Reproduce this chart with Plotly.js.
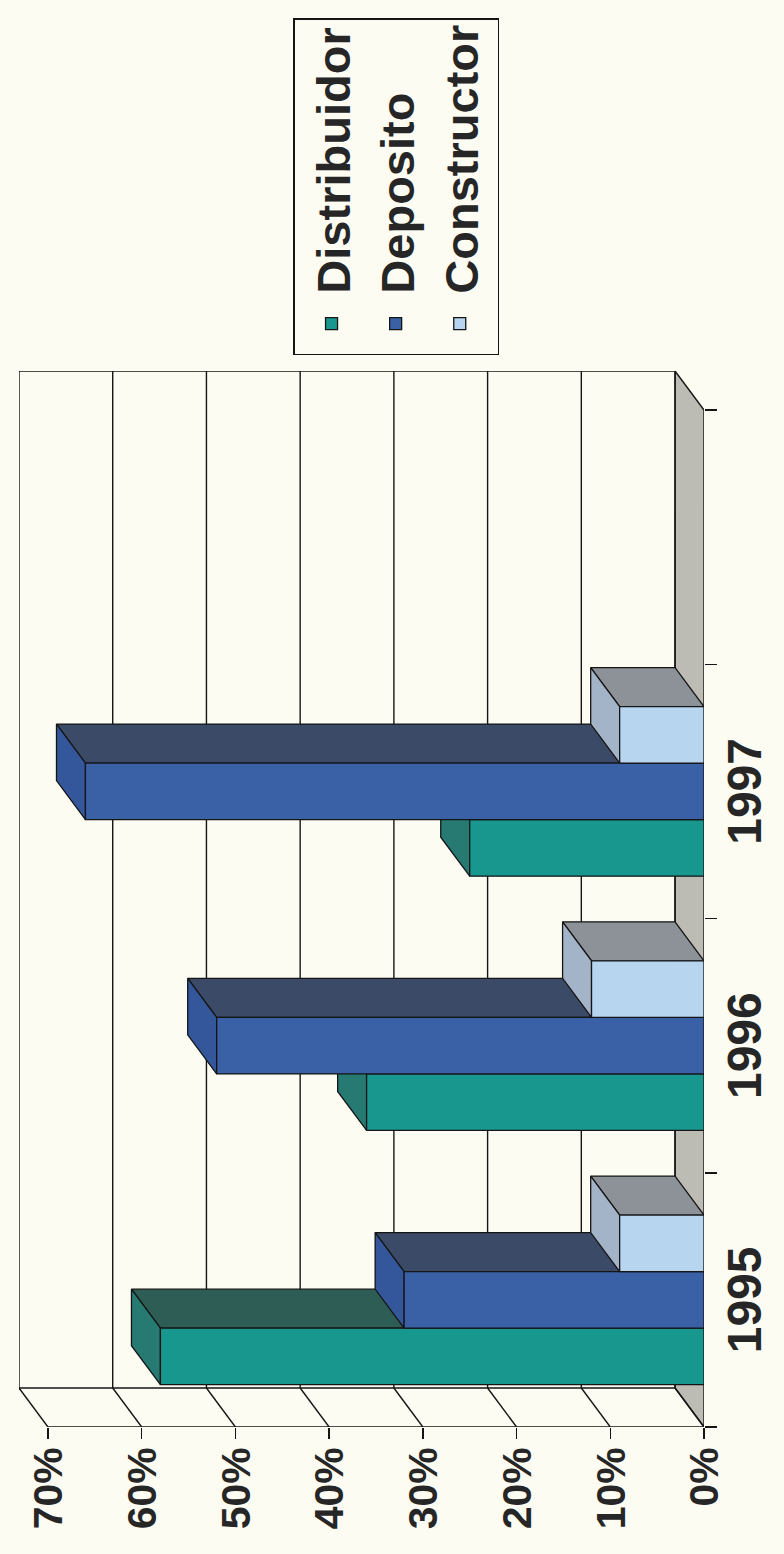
<!DOCTYPE html>
<html>
<head>
<meta charset="utf-8">
<script src="https://cdn.plot.ly/plotly-3.0.1.min.js"></script>
<style>
html,body{margin:0;padding:0;width:784px;height:1554px;overflow:hidden;background:#fcfcf3;}
#wrap{position:absolute;left:0;top:0;width:1554px;height:784px;transform-origin:0 0;transform:translateY(1554px) rotate(-90deg);}
</style>
</head>
<body>
<div id="wrap"></div>
<script>
// ---- data ----
const categories = ['1995', '1996', '1997', ''];
const distribuidor = [58, 36, 25, null];
const deposito = [32, 52, 66, null];
const constructorVals = [9, 12, 9, null];
const seriesNames = ['Distribuidor', 'Deposito', 'Constructor'];
const valueTicks = [0, 10, 20, 30, 40, 50, 60, 70];

// ---- style ----
const frontColors = ['#18978f', '#3a61a6', '#b8d5f0'];
const topColors   = ['#277a72', '#34579c', '#a4b4c8'];
const sideColors  = ['#2d5d55', '#3b4a66', '#8c9297'];
const EDGE = '#151515';
const DEPTH_X = 0.1534;   // depth offset in category units
const DEPTH_Y = 3.09;     // depth offset in percent units
const GROUP = 0.667;      // fraction of a category used by a bar group

const series = [distribuidor, deposito, constructorVals];
const nCat = categories.length;
const W = GROUP / series.length;
const yMax = valueTicks[valueTicks.length - 1];
const xRange = [-0.5, nCat - 0.5 + DEPTH_X];
const yRange = [0, yMax + DEPTH_Y];

const traces = [];
// 3D side & top faces (drawn beneath the front faces)
series.forEach((vals, s) => {
  const side = {x: [], y: []}, top = {x: [], y: []};
  vals.forEach((v, i) => {
    if (v == null) return;
    const x0 = i - GROUP / 2 + s * W, x1 = x0 + W;
    side.x.push(x1, x1, x1 + DEPTH_X, x1 + DEPTH_X, x1, null);
    side.y.push(0, v, v + DEPTH_Y, DEPTH_Y, 0, null);
    top.x.push(x0, x1, x1 + DEPTH_X, x0 + DEPTH_X, x0, null);
    top.y.push(v, v, v + DEPTH_Y, v + DEPTH_Y, v, null);
  });
  [[side, sideColors[s]], [top, topColors[s]]].forEach(([p, c]) => {
    traces.push({type: 'scatter', mode: 'lines', x: p.x, y: p.y, fill: 'toself',
      fillcolor: c, line: {color: EDGE, width: 1.3}, showlegend: false, hoverinfo: 'skip'});
  });
});
// front faces as real bars on an overlaid subplot (drawn on top)
series.forEach((vals, s) => {
  traces.push({type: 'bar', name: seriesNames[s], x: categories.map((c, i) => i), y: vals,
    width: W, offset: -GROUP / 2 + s * W, xaxis: 'x2', yaxis: 'y2',
    marker: {color: frontColors[s], line: {color: EDGE, width: 1.3}}});
});

// walls / floor / grid from the tick values
const shapes = [];
const L = -0.5, R = nCat - 0.5;
shapes.push({type: 'path', xref: 'x', yref: 'y', layer: 'below',
  path: `M${L},0 L${R},0 L${R + DEPTH_X},${DEPTH_Y} L${L + DEPTH_X},${DEPTH_Y} Z`,
  fillcolor: '#bcbcb4', line: {color: EDGE, width: 1.4}});
valueTicks.forEach(t => {
  shapes.push({type: 'line', xref: 'x', yref: 'y', layer: 'below',
    x0: L + DEPTH_X, x1: R + DEPTH_X, y0: t + DEPTH_Y, y1: t + DEPTH_Y, line: {color: EDGE, width: 1.4}});
  shapes.push({type: 'line', xref: 'x', yref: 'y', layer: 'below',
    x0: L, x1: L + DEPTH_X, y0: t, y1: t + DEPTH_Y, line: {color: EDGE, width: 1.4}});
});
[L + DEPTH_X, R + DEPTH_X].forEach(xv => shapes.push({type: 'line', xref: 'x', yref: 'y', layer: 'below',
  x0: xv, x1: xv, y0: DEPTH_Y, y1: yMax + DEPTH_Y, line: {color: EDGE, width: 1.4}}));
shapes.push({type: 'line', xref: 'x', yref: 'y', layer: 'below',
  x0: L, x1: L, y0: 0, y1: yMax, line: {color: EDGE, width: 1.4}});

const boundaries = categories.map((c, i) => i - 0.5).concat([nCat - 0.5]);

const layout = {
  width: 1554, height: 784,
  margin: {l: 127, r: 371, t: 19, b: 80},
  paper_bgcolor: '#fcfcf3', plot_bgcolor: '#fcfcf3',
  font: {family: '"Liberation Sans", Arial, sans-serif', color: '#262626'},
  showlegend: true,
  barmode: 'overlay',
  legend: {x: 1.015, xanchor: 'left', y: 0.6, yanchor: 'top', bgcolor: 'rgba(0,0,0,0)',
    bordercolor: EDGE, borderwidth: 1.5, itemwidth: 50, font: {size: 47, weight: 'bold'}},
  xaxis: {range: xRange, tickmode: 'array', tickvals: categories.map((c, i) => i), ticktext: categories,
    ticks: '', showgrid: false, zeroline: false, showline: false, fixedrange: true,
    ticklabelstandoff: 8,
    tickfont: {size: 48, weight: 'bold'},
    minor: {tickmode: 'array', tickvals: boundaries, ticks: 'outside', ticklen: 12, tickwidth: 1.5, tickcolor: EDGE, showgrid: false}},
  yaxis: {range: yRange, tickmode: 'array', tickvals: valueTicks, ticktext: valueTicks.map(t => t + '%'),
    ticks: 'outside', ticklen: 11, tickwidth: 1.5, tickcolor: EDGE, showgrid: false, zeroline: false, showline: false,
    tickfont: {size: 41, weight: 'bold'}},
  xaxis2: {overlaying: 'x', range: xRange, visible: false},
  yaxis2: {overlaying: 'y', range: yRange, visible: false},
  shapes: shapes
};

Plotly.newPlot('wrap', traces, layout, {displayModeBar: false, staticPlot: true});
</script>
</body>
</html>
